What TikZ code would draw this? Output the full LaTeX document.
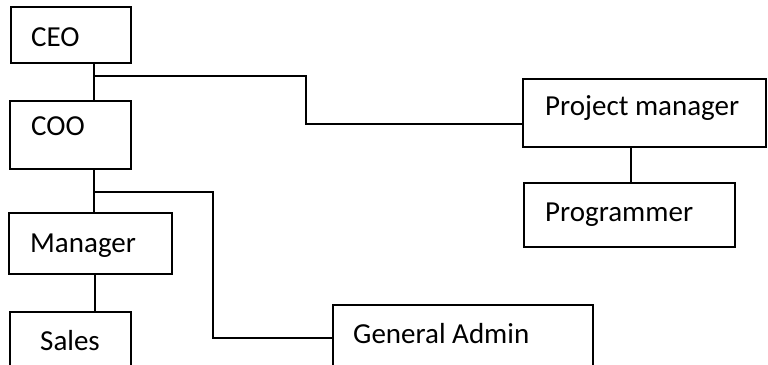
\documentclass[tikz,border=0pt]{standalone}
\usepackage{fontspec}
\setmainfont{Carlito}

\tikzset{
  box/.style={draw, line width=2pt, rectangle, anchor=north west, inner sep=0pt},
  boxtext/.style={anchor=base west, inner sep=0pt, font=\fontsize{29}{32}\selectfont},
  link/.style={line width=2pt}
}

\begin{document}
\begin{tikzpicture}[x=1pt,y=-1pt]
\useasboundingbox (0,0) rectangle (768,364);

% boxes
\node[box, minimum width=120, minimum height=56] (ceo) at (10,6) {};
\node[box, minimum width=121, minimum height=68] (coo) at (9,100) {};
\node[box, minimum width=163, minimum height=61] (manager) at (8,212) {};
\node[box, minimum width=121, minimum height=70] (sales) at (9,311) {};
\node[box, minimum width=243, minimum height=68] (pm) at (522,78) {};
\node[box, minimum width=211, minimum height=64] (prog) at (523,182) {};
\node[box, minimum width=260, minimum height=70] (admin) at (332,304) {};

% texts
\node[boxtext] (ceotext) at (31,46) {CEO};
\node[boxtext] (cootext) at (31,135) {COO};
\node[boxtext] (managertext) at (30,252) {Manager};
\node[boxtext] (salestext) at (40,350) {Sales};
\node[boxtext] (pmtext) at (545,115) {Project manager};
\node[boxtext] (progtext) at (545,221) {Programmer};
\node[boxtext] (admintext) at (353,343) {General Admin};

% branch points
\coordinate (ceojoin) at (94,76);
\coordinate (pmbend) at (306,124);
\coordinate (coojoin) at (94,192);
\coordinate (adminbend) at (213,338);
\coordinate (salesx) at (95,0);
\coordinate (progx) at (631,0);

% connectors
\draw[link] (ceo.south -| ceojoin) -- (coo.north -| ceojoin);
\draw[link] (ceojoin) -| (pmbend) -- (pmbend -| pm.west);
\draw[link] (coo.south -| coojoin) -- (manager.north -| coojoin);
\draw[link] (coojoin) -| (adminbend) -- (adminbend -| admin.west);
\draw[link] (manager.south -| salesx) -- (sales.north -| salesx);
\draw[link] (pm.south -| progx) -- (prog.north -| progx);

\end{tikzpicture}
\end{document}
